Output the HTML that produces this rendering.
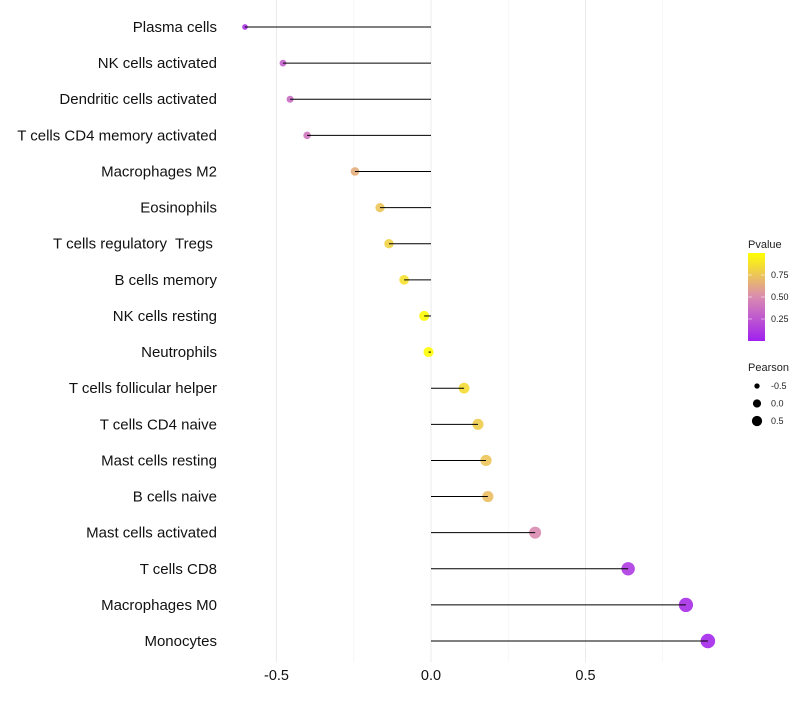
<!DOCTYPE html>
<html><head><meta charset="utf-8"><style>
body{margin:0;background:#fff;}
svg text{font-family:"Liberation Sans",sans-serif;white-space:pre;}
</style></head><body>
<svg id="chart" width="800" height="700" xmlns="http://www.w3.org/2000/svg"></svg>
<script>
const categories=["Plasma cells","NK cells activated","Dendritic cells activated","T cells CD4 memory activated","Macrophages M2","Eosinophils","T cells regulatory  Tregs ","B cells memory","NK cells resting","Neutrophils","T cells follicular helper","T cells CD4 naive","Mast cells resting","B cells naive","Mast cells activated","T cells CD8","Macrophages M0","Monocytes"];
const pearson=[-0.602,-0.479,-0.456,-0.401,-0.246,-0.165,-0.136,-0.087,-0.022,-0.008,0.107,0.152,0.178,0.184,0.337,0.638,0.825,0.896];
const pvalue=[0.08,0.3,0.35,0.4,0.65,0.75,0.8,0.87,0.98,0.99,0.85,0.78,0.75,0.72,0.5,0.12,0.06,0.04];
const xTicks=[-0.5,0,0.5];
const xTickLabels=["-0.5","0.0","0.5"];
const minorTicks=[-0.25,0.25,0.75];
const pvTicks=[0.25,0.5,0.75];
const pvTickLabels=["0.25","0.50","0.75"];
const sizeLegend=[-0.5,0,0.5];
const sizeLegendLabels=["-0.5","0.0","0.5"];

const svg=document.getElementById('chart');
const NS="http://www.w3.org/2000/svg";
const x=v=>431+v*309;
const y=i=>27+i*36.12;
const r=v=>Math.sqrt(Math.max(2,26+30*v));
function lerp(a,b,t){return a.map((c,i)=>Math.round(c+(b[i]-c)*t));}
function color(p){const s=[[160,32,240],[217,139,176],[255,255,0]];
 const c=p<0.5?lerp(s[0],s[1],p/0.5):lerp(s[1],s[2],(p-0.5)/0.5);return `rgb(${c})`;}
function mk(tag,attrs,parent){const e=document.createElementNS(NS,tag);for(const k in attrs)e.setAttribute(k,attrs[k]);(parent||svg).appendChild(e);return e;}

minorTicks.forEach(v=>{const g=mk('line',{x1:x(v),x2:x(v),y1:0,y2:662,stroke:'#f2f2f2','stroke-width':0.6});

});
xTicks.forEach((v,i)=>{const g=mk('line',{x1:x(v),x2:x(v),y1:0,y2:662,stroke:'#ebebeb','stroke-width':1});


const t=mk('text',{x:x(v),y:680,'text-anchor':'middle','font-size':14.5,fill:'#111'});t.textContent=xTickLabels[i];

});

categories.forEach((c,i)=>{
 const t=mk('text',{x:217,y:y(i)+5,'text-anchor':'end','font-size':15,fill:'#111'});t.textContent=c;
 
 
 const p=mk('circle',{cx:x(pearson[i]),cy:y(i),r:r(pearson[i]),fill:color(pvalue[i]),'fill-opacity':0.9});
 
 
 const l=mk('line',{x1:x(0),x2:x(pearson[i]),y1:y(i),y2:y(i),stroke:'#000','stroke-width':1});
 
 
});

const lt=mk('text',{x:748,y:248,'font-size':11,fill:'#222'});lt.textContent='Pvalue';


const defs=mk('defs',{});
const grad=mk('linearGradient',{id:'pg',x1:0,y1:1,x2:0,y2:0},defs);
[0,0.25,0.5,0.75,1].forEach(s=>mk('stop',{offset:s,'stop-color':color(s)},grad));
const bar=mk('rect',{x:748,y:253,width:17,height:88,fill:'url(#pg)'});


const py=p=>341-p*88;
pvTicks.forEach((v,i)=>{mk('line',{x1:748,x2:752,y1:py(v),y2:py(v),stroke:'#fff','stroke-opacity':0.5});
 mk('line',{x1:761,x2:765,y1:py(v),y2:py(v),stroke:'#fff','stroke-opacity':0.5});
 const t=mk('text',{x:771,y:py(v)+3,'font-size':9,fill:'#222'});t.textContent=pvTickLabels[i];
 
 });

const st=mk('text',{x:748,y:371,'font-size':11,fill:'#222'});st.textContent='Pearson';


sizeLegend.forEach((v,i)=>{const cy=386+i*17.5;
 const c=mk('circle',{cx:757,cy:cy,r:r(v)*0.8,fill:'#000'});
 
 
 const t=mk('text',{x:771,y:cy+3,'font-size':9,fill:'#222'});t.textContent=sizeLegendLabels[i];
 
 });
</script>
</body></html>
